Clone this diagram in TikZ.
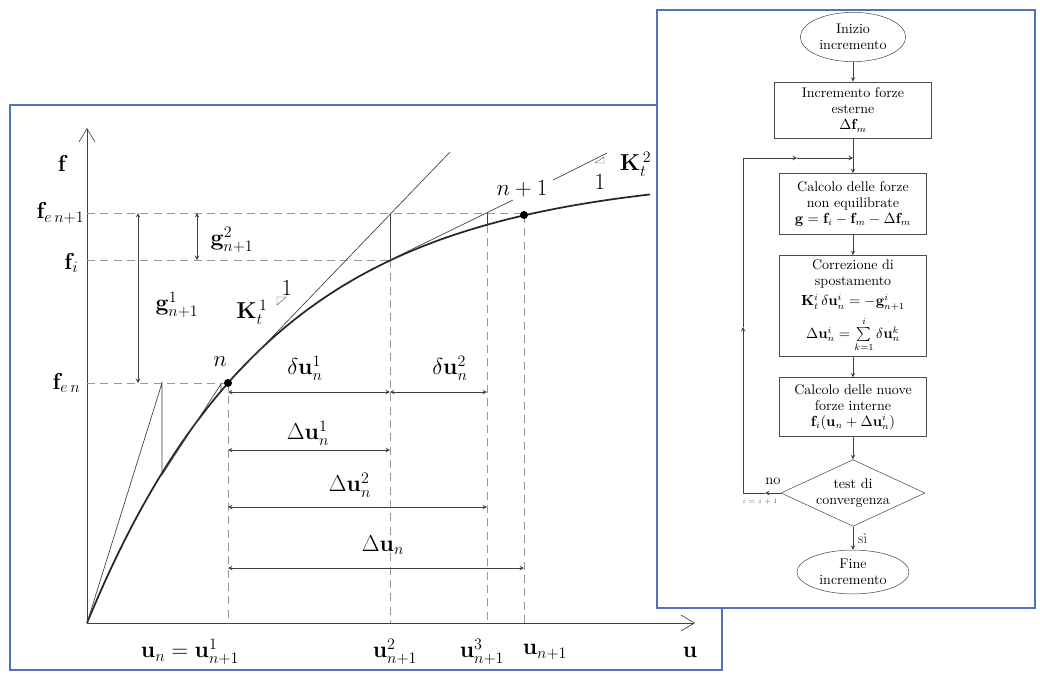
\documentclass[tikz,border=0pt]{standalone}
\usepackage{amsmath}
\usepackage{amssymb}
\usepackage{tikz}
\usetikzlibrary{positioning,shapes.geometric,arrows.meta}

\begin{document}
\begin{tikzpicture}[x=0.75pt,y=-0.75pt,>=stealth,
    frm/.style={draw=frameblue,line width=1.5pt},
    crv/.style={line width=1.3pt,black!85},
    thn/.style={line width=0.5pt,black!75},
    dsh/.style={dashed,dash pattern=on 6pt off 4pt,gray!80,line width=0.5pt},
    dim/.style={<->,line width=0.5pt,black!75},
    lbl/.style={font=\fontsize{17}{19}\selectfont,inner sep=1pt},
    blk/.style={draw,black!70,text=black,font=\fontsize{10.5}{12}\selectfont,align=center,inner sep=2pt},
    fl/.style={->,black!75,line width=0.5pt}]
  \definecolor{frameblue}{RGB}{79,114,189}
  \useasboundingbox[fill=white] (0,0) rectangle (1040,675);

  % left panel: Newton-Raphson diagram
  \draw[frm] (10,105) rectangle (722,670);
  \coordinate (O) at (87,623);
  \coordinate (pn) at (228,383);
  \coordinate (p2) at (390,260);
  \coordinate (t2) at (390,214);
  \coordinate (p3) at (487,225);
  \coordinate (t3) at (487,213);
  \coordinate (pn1) at (524,215);
  \coordinate (r1) at (0,392);
  \coordinate (r2) at (0,450);
  \coordinate (r3) at (0,507);
  \coordinate (r4) at (0,568);
  \coordinate (ftop) at (87,128);
  \coordinate (uend) at (695,623);

  \draw[thn,-{Straight Barb[length=10pt,width=12pt]}] (O) -- (ftop);
  \draw[thn,-{Straight Barb[length=10pt,width=12pt]}] (O) -- (uend);

  % dashed levels
  \draw[dsh] (O |- t3) -- (pn1 |- t3);
  \draw[dsh] (O |- p2) -- (p2);
  \draw[dsh] (O |- pn) -- (pn);
  \draw[dsh] (pn) -- (pn |- O);
  \draw[dsh] (p2) -- (p2 |- O);
  \draw[dsh] (p3) -- (p3 |- O);
  \draw[dsh] (pn1) -- (pn1 |- O);

  % curve
  \draw[crv] plot[domain=87:650,samples=90] (\x,{623-450*(1-exp(-(\x-87)/185))});

  % iterations
  \draw[thn] (O) -- (162,383) -- (162,475) -- (221,384) -- (221,391);
  \draw[thn] (pn) -- (450,152);
  \draw[thn] (t2) -- (p2);
  \draw[thn] (p2) -- (513,200);
  \draw[thn] (t3) -- (p3);
  \fill (pn) circle (3pt);
  \fill (pn1) circle (3pt);

  % slope marks
  \draw[thn,line width=0.3pt] (277,297) -- (286,297) -- (277,305) -- cycle;
  \draw[thn] (553,180) -- (607,153);
  \draw[thn,line width=0.3pt] (595,163) -- (604,157) -- (604,163) -- cycle;

  % g arrows
  \draw[dim] (138,213) -- (138,383);
  \draw[dim] (197,213) -- (197,260);

  % dimension lines
  \draw[dim] (pn |- r1) -- (p2 |- r1);
  \draw[dim] (p2 |- r1) -- (p3 |- r1);
  \draw[dim] (pn |- r2) -- (p2 |- r2);
  \draw[dim] (pn |- r3) -- (p3 |- r3);
  \draw[dim] (pn |- r4) -- (pn1 |- r4);

  % labels
  \node[lbl] (lf) at (63,163) {$\mathbf{f}$};
  \node[lbl,anchor=east] (lfen1) at (86,213) {$\mathbf{f}_{e\,n+1}$};
  \node[lbl,anchor=east] (lfi) at (80,263) {$\mathbf{f}_{i}$};
  \node[lbl,anchor=east] (lfen) at (82,383) {$\mathbf{f}_{e\,n}$};
  \node[lbl] (lg2) at (232,240) {$\mathbf{g}^2_{n+1}$};
  \node[lbl] (lg1) at (177,305) {$\mathbf{g}^1_{n+1}$};
  \node[lbl] (lk1) at (252,312) {$\mathbf{K}_t^{\,1}$};
  \node[lbl] (lk1b) at (287,288) {$1$};
  \node[lbl] (ln) at (220,362) {$n$};
  \node[lbl] (ln1) at (522,189) {$n+1$};
  \node[lbl,anchor=east] (lk2) at (653,164) {$\mathbf{K}_t^{\,2}$};
  \node[lbl] (lk2b) at (600,182) {$1$};
  \node[lbl] (ldu1) at (305,368) {$\delta\mathbf{u}_n^1$};
  \node[lbl] (ldu2) at (450,368) {$\delta\mathbf{u}_n^2$};
  \node[lbl] (lDu1) at (308,433) {$\Delta\mathbf{u}_n^1$};
  \node[lbl] (lDu2) at (350,485) {$\Delta\mathbf{u}_n^2$};
  \node[lbl] (lDu) at (383,545) {$\Delta\mathbf{u}_n$};
  \node[lbl] (lun) at (190,652) {$\mathbf{u}_n=\mathbf{u}^1_{n+1}$};
  \node[lbl] (lu2) at (395,652) {$\mathbf{u}^2_{n+1}$};
  \node[lbl] (lu3) at (482,652) {$\mathbf{u}^3_{n+1}$};
  \node[lbl] (lu1n) at (545,652) {$\mathbf{u}_{n+1}$};
  \node[lbl] (lu) at (690,652) {$\mathbf{u}$};

  % right panel: flowchart
  \draw[frm,fill=white] (657,10) rectangle (1035,608);
  \node[blk,ellipse,minimum width=79pt,minimum height=37pt] (start) at (853,37) {Inizio\\incremento};
  \node[blk,minimum width=118pt,minimum height=42pt] (ext) at (853,110) {Incremento forze\\esterne\\$\Delta\mathbf{f}_m$};
  \node[blk,minimum width=110pt,minimum height=46pt] (unb) at (853,204) {Calcolo delle forze\\non equilibrate\\$\mathbf{g}=\mathbf{f}_i-\mathbf{f}_m-\Delta\mathbf{f}_m$};
  \node[blk,minimum width=110pt,minimum height=76pt,inner sep=1pt] (corr) at (853,306) {Correzione di\\spostamento\\[3pt]$\mathbf{K}_t^i\,\delta\mathbf{u}_n^i=-\mathbf{g}_{n+1}^i$\\[4pt]$\Delta\mathbf{u}_n^i=\sum\limits_{k=1}^{i}\delta\mathbf{u}_n^k$};
  \node[blk,minimum width=110pt,minimum height=44pt] (int) at (853,407) {Calcolo delle nuove\\forze interne\\$\mathbf{f}_i(\mathbf{u}_n+\Delta\mathbf{u}_n^i)$};
  \node[blk,diamond,aspect=2.2,inner sep=0pt,minimum width=108pt,minimum height=50pt] (test) at (853,493) {test di\\convergenza};
  \node[blk,ellipse,minimum width=84pt,minimum height=32pt] (stop) at (853,572) {Fine\\incremento};
  \coordinate (jn) at (853,158);
  \coordinate (lpa) at (765,493);
  \coordinate (lpb) at (743,493);
  \coordinate (lpc) at (743,327);
  \coordinate (lpd) at (743,158);
  \coordinate (lpe) at (797,158);

  \draw[fl] (start) -- (ext);
  \draw[fl] (ext) -- (unb);
  \draw[fl] (unb) -- (corr);
  \draw[fl] (corr) -- (int);
  \draw[fl] (int) -- (test);
  \draw[fl] (test) -- node[right,font=\fontsize{11}{12}\selectfont] {sì} (stop);
  \draw[fl] (test.west) -- (lpa);
  \draw[fl] (lpa) -- (lpb) -- (lpc);
  \draw[fl] (lpc) -- (lpd) -- (lpe);
  \draw[fl] (lpe) -- (jn);
  \node[font=\fontsize{11}{12}\selectfont,inner sep=1pt] (lno) at (773,481) {no};
  \node[font=\fontsize{5}{6}\selectfont,inner sep=1pt,black!60] (linc) at (760,502) {$i=i+1$};
\end{tikzpicture}
\end{document}
